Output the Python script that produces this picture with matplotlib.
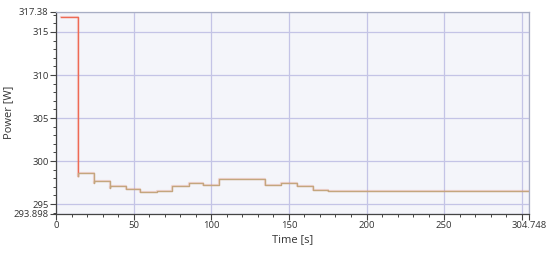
import numpy as np
from matplotlib import pyplot as plt
from matplotlib.ticker import MultipleLocator

plt.rcParams['font.family'] = ['Open Sans', 'DejaVu Sans']

# step points (time [s], power [W])
time_s = [3.2, 14.0, 14.3, 24.1, 24.6, 34.5, 35.0, 45.2, 54.3, 65.0, 74.8,
          85.5, 94.8, 105.0, 134.5, 144.8, 155.0, 165.3, 175.0, 304.748]
power_w = [316.8, 298.2, 298.65, 297.5, 297.7, 296.9, 297.05, 296.8, 296.45,
           296.55, 297.1, 297.45, 297.2, 297.9, 297.2, 297.5, 297.05, 296.6,
           296.5, 296.5]

x_ticks = [0, 50, 100, 150, 200, 250, 300, 304.748]
x_labels = ["0", "50", "100", "150", "200", "250", "", "304.748"]
y_ticks = [293.898, 295, 300, 305, 310, 315, 317.38]
y_labels = ["293.898", "295", "300", "305", "310", "315", "317.38"]

fig = plt.figure(figsize=(5.5, 2.56), dpi=100)
ax = fig.add_axes([0.102, 0.166, 0.860, 0.789])
ax.set_facecolor("#f4f5fa")

# red trace underneath, tan trace on top after the drop
ax.plot(time_s, power_w, drawstyle="steps-post", color="#ee6a55", lw=1.6, alpha=0.22)
ax.plot(time_s[:2], power_w[:2], drawstyle="steps-post", color="#ee6a55", lw=1.0)
ax.plot(time_s[1:], power_w[1:], drawstyle="steps-post", color="#c4a67e", lw=1.0)

ax.set_xlim(0, 304.748)
ax.set_ylim(293.898, 317.38)
ax.set_xticks(x_ticks)
ax.set_xticklabels(x_labels)
ax.set_yticks(y_ticks)
ax.set_yticklabels(y_labels)
ax.xaxis.set_minor_locator(MultipleLocator(10))
ax.yaxis.set_minor_locator(MultipleLocator(1))

ax.grid(which="major", color="#c4c4e6", lw=0.9)
ax.set_axisbelow(True)

ax.tick_params(which="major", length=4, width=0.8, color="#444444",
               labelsize=6.8, labelcolor="#333333", pad=1.5)
ax.tick_params(which="minor", length=2.5, width=0.7, color="#444444")

for side in ["left", "bottom"]:
    ax.spines[side].set_color("#444444")
    ax.spines[side].set_linewidth(0.9)
for side in ["top", "right"]:
    ax.spines[side].set_color("#a8aec4")
    ax.spines[side].set_linewidth(0.9)

ax.set_xlabel("Time [s]", fontsize=8, color="#333333", labelpad=3)
ax.set_ylabel("Power [W]", fontsize=8, color="#333333")
ax.yaxis.set_label_coords(-0.088, 0.5)

plt.savefig("out.png", dpi=100)
plt.close()
